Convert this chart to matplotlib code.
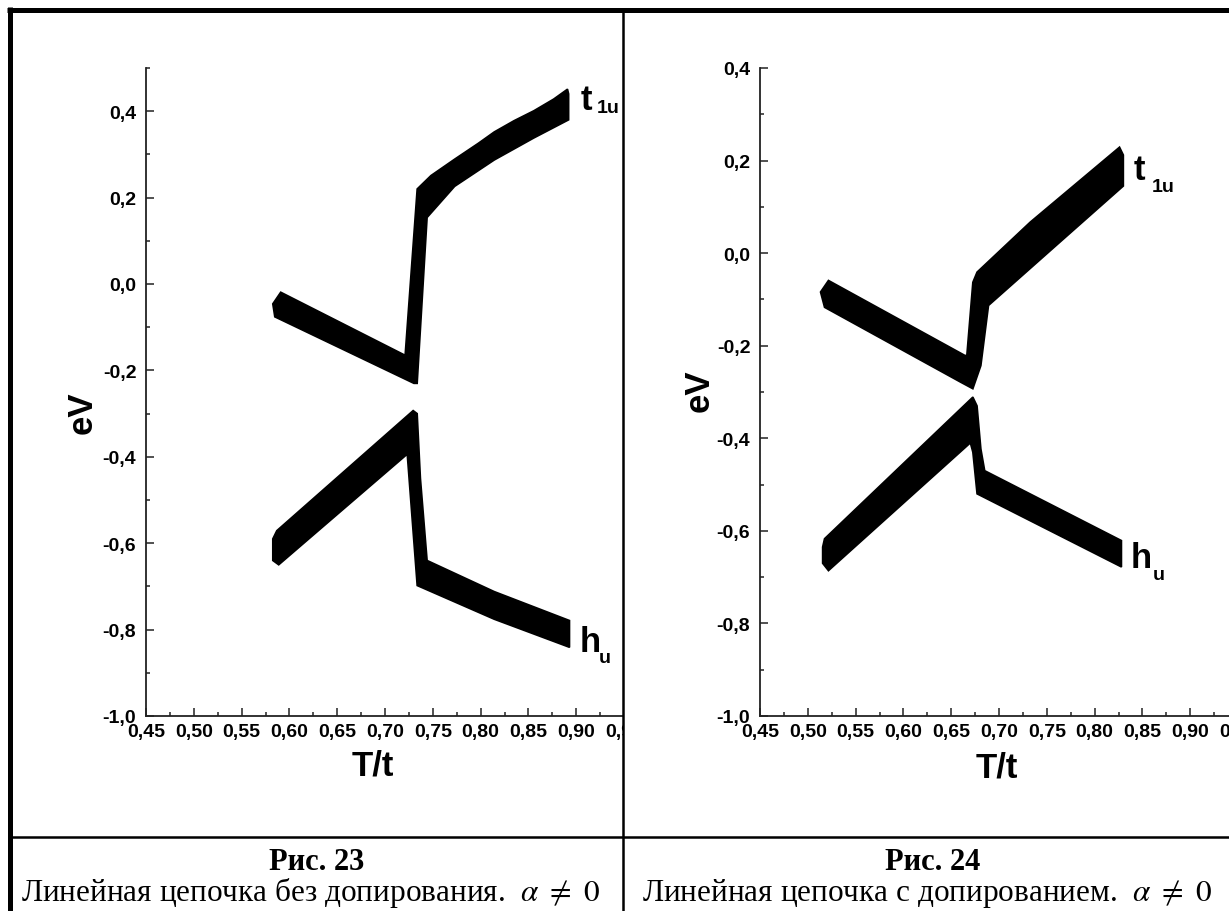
import matplotlib
matplotlib.use("Agg")
import matplotlib.pyplot as plt
from matplotlib.lines import Line2D
from matplotlib.patches import Rectangle
from matplotlib.ticker import FixedLocator, FixedFormatter

plt.rcParams['mathtext.fontset'] = 'stix'

# Рис. 23: линейная цепочка без допирования (контуры полос, T/t -> eV)
t1u_23_top_x = [0.5826, 0.5909, 0.7210, 0.7336, 0.748, 0.7728, 0.7977, 0.8142, 0.8349, 0.8556, 0.8763, 0.8908, 0.8920]
t1u_23_top_y = [-0.046, -0.019, -0.165, 0.220, 0.251, 0.289, 0.326, 0.352, 0.378, 0.401, 0.428, 0.451, 0.440]
t1u_23_bot_x = [0.5826, 0.5847, 0.7302, 0.7336, 0.744, 0.7728, 0.8142, 0.8556, 0.8920]
t1u_23_bot_y = [-0.046, -0.076, -0.230, -0.230, 0.154, 0.226, 0.287, 0.338, 0.380]

hu_23_top_x = [0.5826, 0.5868, 0.7294, 0.7336, 0.7370, 0.744, 0.8142, 0.8929]
hu_23_top_y = [-0.590, -0.571, -0.293, -0.300, -0.450, -0.640, -0.712, -0.779]
hu_23_bot_x = [0.5826, 0.5888, 0.7232, 0.7336, 0.8142, 0.8929]
hu_23_bot_y = [-0.640, -0.650, -0.394, -0.698, -0.776, -0.841]

# Рис. 24: линейная цепочка с допированием
t1u_24_top_x = [0.5133, 0.5216, 0.6643, 0.6663, 0.6726, 0.677, 0.7326, 0.826, 0.830]
t1u_24_top_y = [-0.084, -0.059, -0.221, -0.221, -0.063, -0.041, 0.067, 0.229, 0.212]
t1u_24_bot_x = [0.5133, 0.5175, 0.660, 0.6726, 0.681, 0.689, 0.760, 0.830]
t1u_24_bot_y = [-0.084, -0.117, -0.279, -0.293, -0.243, -0.113, 0.017, 0.145]

hu_24_top_x = [0.5155, 0.5175, 0.6726, 0.677, 0.681, 0.685, 0.828]
hu_24_top_y = [-0.635, -0.617, -0.311, -0.330, -0.423, -0.470, -0.621]
hu_24_bot_x = [0.5155, 0.5216, 0.670, 0.6726, 0.677, 0.828]
hu_24_bot_y = [-0.670, -0.686, -0.410, -0.430, -0.520, -0.678]

x_ticks = [0.45, 0.50, 0.55, 0.60, 0.65, 0.70, 0.75, 0.80, 0.85, 0.90, 0.95]
x_minor = [0.475, 0.525, 0.575, 0.625, 0.675, 0.725, 0.775, 0.825, 0.875, 0.925, 0.975]
y_ticks_23 = [-1.0, -0.8, -0.6, -0.4, -0.2, 0.0, 0.2, 0.4]
y_minor_23 = [-0.9, -0.7, -0.5, -0.3, -0.1, 0.1, 0.3, 0.5]
y_ticks_24 = [-1.0, -0.8, -0.6, -0.4, -0.2, 0.0, 0.2, 0.4]
y_minor_24 = [-0.9, -0.7, -0.5, -0.3, -0.1, 0.1, 0.3]

captions = ["Рис. 23", "Рис. 24"]
subcaptions = ["Линейная цепочка без допирования.  $\\alpha\\ \\neq\\ 0$",
               "Линейная цепочка с допированием.  $\\alpha\\ \\neq\\ 0$"]

W, H = 1229, 912
sans = 'Liberation Sans'


def fmt(v, nd):
    s = f"{v:.{nd}f}".replace('.', ',')
    return "0,0" if s == "-0,0" else s


def band(ax, tx, ty, bx, by):
    xs = list(tx) + list(bx)[::-1]
    ys = list(ty) + list(by)[::-1]
    ax.fill(xs, ys, color='black', lw=1.2, ec='black', zorder=3)


def setup(ax, yt, ym, ylim):
    ax.set_xlim(0.45, 0.975)
    ax.set_ylim(*ylim)
    for s in ['top', 'right']:
        ax.spines[s].set_visible(False)
    for s in ['left', 'bottom']:
        ax.spines[s].set_linewidth(1.3)
        ax.spines[s].set_color('#222222')
    ax.xaxis.set_major_locator(FixedLocator(x_ticks))
    ax.xaxis.set_major_formatter(FixedFormatter([fmt(v, 2) for v in x_ticks]))
    ax.xaxis.set_minor_locator(FixedLocator(x_minor))
    ax.yaxis.set_major_locator(FixedLocator(yt))
    ax.yaxis.set_major_formatter(FixedFormatter([fmt(v, 1) for v in yt]))
    ax.yaxis.set_minor_locator(FixedLocator(ym))
    ax.tick_params(which='major', direction='in', length=5.5, width=1.1, color='#222222')
    ax.tick_params(which='minor', direction='in', length=2.8, width=1.1, color='#222222')
    ax.tick_params(axis='y', which='major', pad=7)
    ax.tick_params(axis='x', which='major', pad=5)
    for lab in ax.get_xticklabels() + ax.get_yticklabels():
        lab.set_family(sans)
        lab.set_fontweight('bold')
        lab.set_fontsize(14)
    ax.patch.set_alpha(0)


def sub_label(ax, x, y, main, sub, xs, ys):
    ax.text(x, y, main, fontsize=25, fontweight='bold', family=sans,
            ha='left', va='baseline', zorder=4)
    ax.text(xs, ys, sub, fontsize=14, fontweight='bold', family=sans,
            ha='left', va='baseline', zorder=4)


fig = plt.figure(figsize=(W / 100, H / 100), dpi=100)

ax1 = fig.add_axes([146 / W, 1 - 717 / H, 502 / W, 648 / H])
ax1.set_zorder(1)
setup(ax1, y_ticks_23, y_minor_23, (-1.0, 0.5))
band(ax1, t1u_23_top_x, t1u_23_top_y, t1u_23_bot_x, t1u_23_bot_y)
band(ax1, hu_23_top_x, hu_23_top_y, hu_23_bot_x, hu_23_bot_y)
sub_label(ax1, 0.9043, 0.405, "t", "1u", 0.9211, 0.398)
sub_label(ax1, 0.903, -0.850, "h", "u", 0.924, -0.875)
ax1.text(-0.1275, 0.469, "eV", rotation=90, fontsize=25, fontweight='bold',
         family=sans, ha='center', va='center', transform=ax1.transAxes)
ax1.text(0.452, -0.0756, "T/t", fontsize=25, fontweight='bold',
         family=sans, ha='center', va='center', transform=ax1.transAxes)

# белая подложка, обрезающая левый график по границе ячейки
mask = Rectangle((624 / W, 0.09), 58 / W, 0.89, transform=fig.transFigure,
                 facecolor='white', edgecolor='none', zorder=2)
fig.add_artist(mask)

ax2 = fig.add_axes([760 / W, 1 - 717 / H, 502 / W, 648 / H])
ax2.set_zorder(3)
setup(ax2, y_ticks_24, y_minor_24, (-1.0, 0.4))
band(ax2, t1u_24_top_x, t1u_24_top_y, t1u_24_bot_x, t1u_24_bot_y)
band(ax2, hu_24_top_x, hu_24_top_y, hu_24_bot_x, hu_24_bot_y)
sub_label(ax2, 0.8403, 0.160, "t", "1u", 0.860, 0.134)
sub_label(ax2, 0.838, -0.678, "h", "u", 0.861, -0.704)
ax2.text(-0.1215, 0.503, "eV", rotation=90, fontsize=25, fontweight='bold',
         family=sans, ha='center', va='center', transform=ax2.transAxes)
ax2.text(0.472, -0.0787, "T/t", fontsize=25, fontweight='bold',
         family=sans, ha='center', va='center', transform=ax2.transAxes)

# рамка таблицы
lines = [
    ([7 / W, 1.0], [1 - 10.5 / H, 1 - 10.5 / H], 3.6),
    ([9.5 / W, 9.5 / W], [0.0, 1 - 8 / H], 3.6),
    ([623 / W, 623 / W], [0.0, 1 - 10 / H], 1.8),
    ([9.5 / W, 1.0], [1 - 838 / H, 1 - 838 / H], 1.8),
]
for xs, ys, lw in lines:
    fig.add_artist(Line2D(xs, ys, lw=lw, color='black', transform=fig.transFigure,
                          zorder=5, solid_capstyle='butt'))

for cx, cap, sub in zip([317, 933], captions, subcaptions):
    fig.text(cx / W, 1 - 870 / H, cap, family='Liberation Serif', fontweight='bold',
             fontsize=22, ha='center', va='baseline')
    fig.text((cx - 6) / W, 1 - 901 / H, sub, family='Liberation Serif',
             fontsize=22.5, ha='center', va='baseline')

fig.savefig("out.png", dpi=100)
